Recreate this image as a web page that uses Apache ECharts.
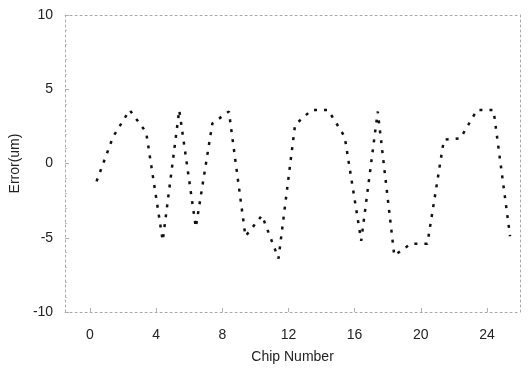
<!DOCTYPE html>
<html>
<head>
<meta charset="utf-8">
<script src="https://cdn.jsdelivr.net/npm/echarts@6/dist/echarts.min.js"></script>
<style>
  html, body {margin: 0; padding: 0; background: #fff;}
  #chart {width: 529px; height: 372px;}
</style>
</head>
<body>
<div id="chart"></div>
<script>
// chip positions and measured error (um)
const chips = [0.4, 1.4, 2.4, 3.4, 4.4, 5.4, 6.4, 7.4, 8.4, 9.4, 10.4, 11.4, 12.4,
  13.4, 14.4, 15.4, 16.4, 17.4, 18.4, 19.4, 20.4, 21.4, 22.4, 23.4, 24.4, 25.4];
const errors = [-1.2, 1.8, 3.6, 2.1, -5.2, 3.6, -4.3, 2.7, 3.5, -4.9, -3.5, -6.4, 2.6,
  3.6, 3.6, 1.8, -5.2, 3.5, -6.2, -5.4, -5.4, 1.6, 1.7, 3.6, 3.6, -4.9];
const xTicks = [0, 4, 8, 12, 16, 20, 24];

const chart = echarts.init(document.getElementById('chart'));

const frame = {show: true, onZero: false, lineStyle: {color: '#a8a8a8', width: 1, type: [2, 3]}};
const font = {color: '#222', fontFamily: 'Liberation Sans, Arial', fontSize: 14};

chart.setOption({
  animation: false,
  grid: {left: 62, right: 9, top: 15, bottom: 60, containLabel: false},
  xAxis: [{
    type: 'value',
    min: -1.5,
    max: 26,
    name: 'Chip Number',
    nameLocation: 'middle',
    nameGap: 38,
    nameTextStyle: {...font},
    axisLine: frame,
    axisTick: {show: true, inside: true, length: 4, customValues: xTicks, lineStyle: {color: '#b0b0b0'}},
    axisLabel: {...font, margin: 16, customValues: xTicks},
    splitLine: {show: false}
  }, {
    type: 'value',
    position: 'top',
    min: -1.5,
    max: 26,
    axisLine: frame,
    axisTick: {show: false},
    axisLabel: {show: false},
    splitLine: {show: false}
  }],
  yAxis: [{
    type: 'value',
    min: -10,
    max: 10,
    interval: 5,
    name: 'Error(um)',
    nameLocation: 'middle',
    nameGap: 32,
    nameTextStyle: {...font},
    axisLine: frame,
    axisTick: {show: true, inside: true, length: 4, lineStyle: {color: '#b0b0b0'}},
    minorTick: {show: true, splitNumber: 5, length: 2, lineStyle: {color: '#c0c0c0'}},
    axisLabel: {...font, margin: 12},
    splitLine: {show: false}
  }, {
    type: 'value',
    position: 'right',
    min: -10,
    max: 10,
    interval: 5,
    axisLine: frame,
    axisTick: {show: false},
    axisLabel: {show: false},
    splitLine: {show: false}
  }],
  series: [{
    type: 'line',
    data: chips.map((c, i) => [c, errors[i]]),
    showSymbol: false,
    lineStyle: {color: '#111', width: 2.5, type: [3, 7]}
  }]
});
</script>
</body>
</html>
